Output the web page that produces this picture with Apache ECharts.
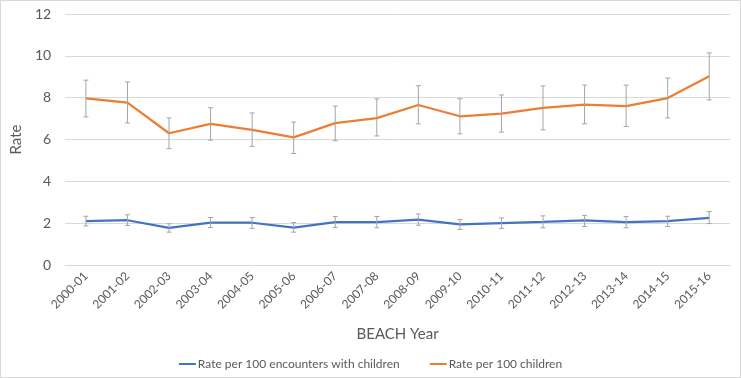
<!DOCTYPE html>
<html>
<head>
<meta charset="utf-8">
<script src="https://cdn.jsdelivr.net/npm/echarts@6/dist/echarts.min.js"></script>
<style>
  html, body { margin: 0; padding: 0; background: #fff; }
  #chart { width: 741px; height: 378px; box-sizing: border-box; border: 1px solid #d9d9d9; }
</style>
</head>
<body>
<div id="chart"></div>
<script>
const years = [
  "2000-01", "2001-02", "2002-03", "2003-04", "2004-05", "2005-06", "2006-07", "2007-08",
  "2008-09", "2009-10", "2010-11", "2011-12", "2012-13", "2013-14", "2014-15", "2015-16",
];

// rate per 100 encounters with children
const encRate = [2.10, 2.14, 1.78, 2.03, 2.02, 1.79, 2.05, 2.05, 2.17, 1.94, 2.00, 2.06, 2.13, 2.05, 2.10, 2.25];
const encLow = [1.87, 1.89, 1.57, 1.79, 1.75, 1.57, 1.79, 1.78, 1.90, 1.70, 1.75, 1.78, 1.84, 1.78, 1.84, 1.98];
const encHigh = [2.33, 2.40, 1.97, 2.27, 2.27, 2.03, 2.32, 2.32, 2.44, 2.17, 2.25, 2.35, 2.37, 2.32, 2.33, 2.56];

// rate per 100 children
const childRate = [7.97, 7.76, 6.30, 6.75, 6.46, 6.10, 6.78, 7.02, 7.65, 7.11, 7.24, 7.51, 7.67, 7.60, 7.98, 9.02];
const childLow = [7.08, 6.79, 5.56, 5.97, 5.67, 5.33, 5.94, 6.17, 6.75, 6.27, 6.35, 6.46, 6.75, 6.62, 7.03, 7.89];
const childHigh = [8.84, 8.75, 7.03, 7.52, 7.27, 6.83, 7.60, 7.94, 8.57, 7.95, 8.13, 8.56, 8.60, 8.60, 8.94, 10.14];

const font = "Lato, 'Noto Sans', sans-serif";
const textColor = "#595959";

const errData = (low, high) => low.map((l, i) => [i, l, high[i]]);

const renderError = (params, api) => {
  const x = api.value(0);
  const lo = api.coord([x, api.value(1)]);
  const hi = api.coord([x, api.value(2)]);
  const cap = 2.5;
  const style = { stroke: "#a5a5a5", lineWidth: 1 };
  return {
    type: "group",
    children: [
      { type: "line", shape: { x1: lo[0], y1: lo[1], x2: hi[0], y2: hi[1] }, style },
      { type: "line", shape: { x1: hi[0] - cap, y1: hi[1], x2: hi[0] + cap, y2: hi[1] }, style },
      { type: "line", shape: { x1: lo[0] - cap, y1: lo[1], x2: lo[0] + cap, y2: lo[1] }, style },
    ],
  };
};

const myChart = echarts.init(document.getElementById("chart"));
myChart.setOption({
  animation: false,
  textStyle: { fontFamily: font },
  grid: { left: 63, right: 10, top: 13, bottom: 112 },
  legend: {
    data: ["Rate per 100 encounters with children", "Rate per 100 children"],
    top: 352,
    left: "center",
    icon: "rect",
    itemWidth: 17,
    itemHeight: 2,
    itemGap: 30,
    textStyle: { color: textColor, fontSize: 12, fontFamily: font, padding: [0, 0, 0, -3] },
  },
  xAxis: {
    type: "category",
    data: years,
    boundaryGap: true,
    name: "BEACH Year",
    nameLocation: "middle",
    nameGap: 62,
    nameTextStyle: { color: textColor, fontSize: 15, fontFamily: font },
    axisLine: { lineStyle: { color: "#d9d9d9" } },
    axisTick: { show: false },
    axisLabel: { color: textColor, fontSize: 12, rotate: 45, margin: 9, interval: 0 },
  },
  yAxis: {
    type: "value",
    min: 0,
    max: 12,
    interval: 2,
    name: "Rate",
    nameLocation: "middle",
    nameGap: 28,
    nameTextStyle: { color: textColor, fontSize: 15, fontFamily: font },
    axisLabel: { color: textColor, fontSize: 14, margin: 14 },
    splitLine: { lineStyle: { color: "#d9d9d9" } },
  },
  series: [
    {
      name: "Rate per 100 encounters with children",
      type: "line",
      data: encRate,
      symbol: "none",
      color: "#4472c4",
      lineStyle: { width: 2.25, color: "#4472c4" },
      z: 2,
    },
    {
      name: "Rate per 100 children",
      type: "line",
      data: childRate,
      symbol: "none",
      color: "#ed7d31",
      lineStyle: { width: 2.25, color: "#ed7d31" },
      z: 2,
    },
    {
      type: "custom",
      renderItem: renderError,
      data: errData(encLow, encHigh),
      encode: { x: 0, y: [1, 2] },
      z: 3,
      silent: true,
    },
    {
      type: "custom",
      renderItem: renderError,
      data: errData(childLow, childHigh),
      encode: { x: 0, y: [1, 2] },
      z: 3,
      silent: true,
    },
  ],
});
</script>
</body>
</html>
